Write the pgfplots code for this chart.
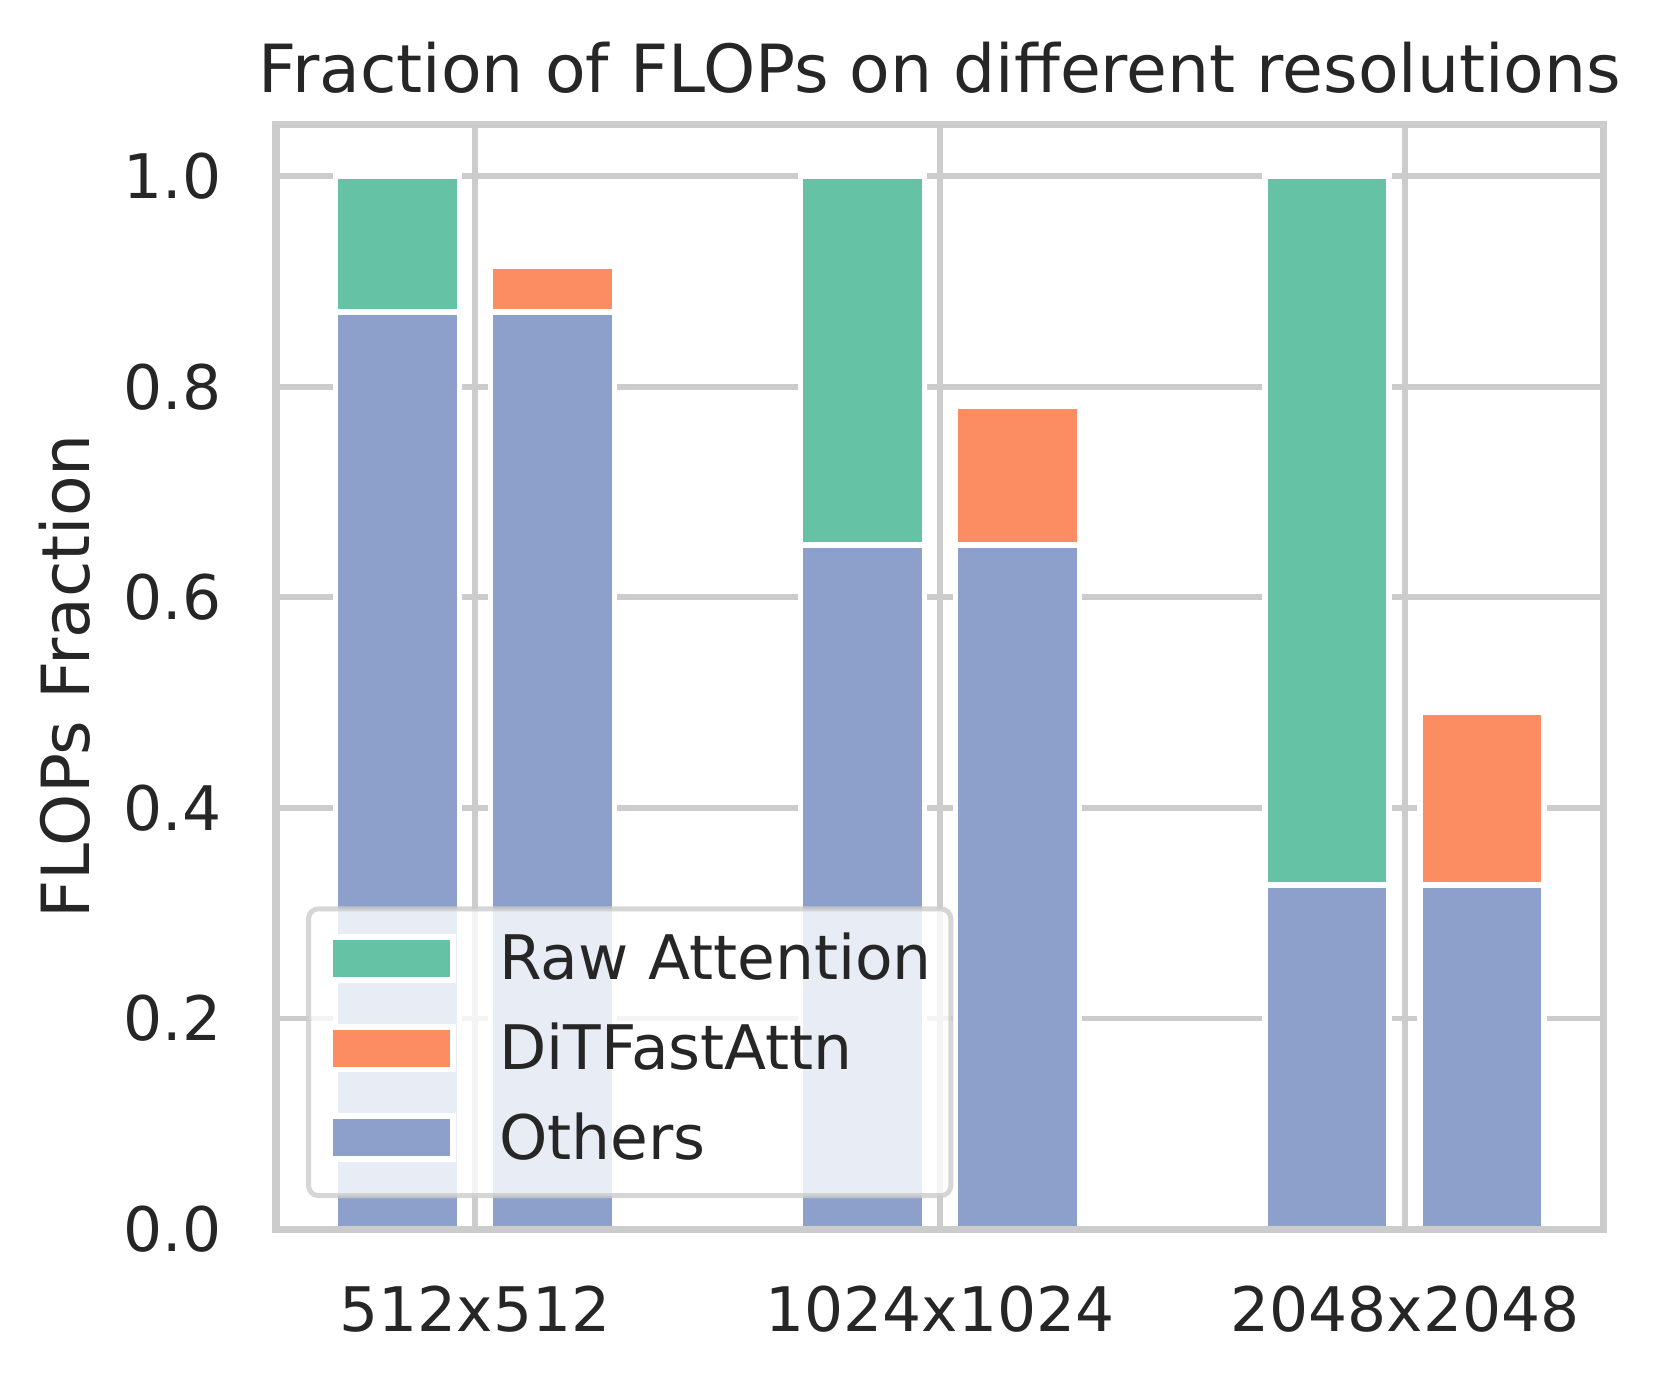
\documentclass[border=0pt]{standalone}
\usepackage{pgfplots}
\pgfplotsset{compat=1.18}
\usepackage{fontspec}
\setmainfont{DejaVu Sans}

\definecolor{rawattn}{HTML}{66C2A5}
\definecolor{fastattn}{HTML}{FC8D62}
\definecolor{others}{HTML}{8DA0CB}
\definecolor{gridgray}{HTML}{CCCCCC}
\definecolor{textcol}{HTML}{262626}

\newcommand\ticksize{\fontsize{14.8pt}{17pt}\selectfont}
\newcommand\titlesize{\fontsize{16.0pt}{19pt}\selectfont}

% legend patch: white-edged box, centred a bit above the row line
\pgfplotsset{patchlegend/.style={legend image code/.code={%
  \draw[##1, sharp corners, fill opacity=1, draw opacity=1, draw=white, line width=1.4pt]
    (0pt,-4.15pt) rectangle (29.6pt,6.15pt);}}}

\begin{document}
\begin{tikzpicture}
\begin{axis}[
    scale only axis,
    width=319.9pt, height=266.2pt,
    xmin=-0.428, xmax=2.428,
    ymin=0, ymax=1.0494,
    xtick={0,1,2},
    xticklabels={512x512,1024x1024,2048x2048},
    ytick={0,0.2,0.4,0.6,0.8,1.0},
    /pgf/number format/fixed,
    /pgf/number format/fixed zerofill,
    /pgf/number format/precision=1,
    /pgf/number format/assume math mode=true,
    tick label style={font=\ticksize, text=textcol},
    xticklabel style={anchor=north, inner sep=0pt, yshift=-13.6pt},
    yticklabel style={anchor=east, inner sep=0pt, xshift=-13.0pt},
    major tick length=0pt,
    title={Fraction of FLOPs on different resolutions},
    every axis title/.style={at={(axis description cs:0.5,1)}, anchor=base, yshift=7.5pt,
        inner sep=0pt, font=\titlesize, text=textcol},
    ylabel={FLOPs Fraction},
    every axis y label/.style={at={(axis description cs:0,0.5)}, xshift=-44.6pt, rotate=90,
        anchor=south, inner sep=0pt, font=\titlesize, text=textcol},
    axis line style={gridgray, line width=1.7pt},
    grid=major,
    grid style={gridgray, line width=1.4pt},
    clip=false,
    legend style={at={(0.0226,0.028)}, anchor=south west,
        draw=gridgray, draw opacity=0.8, line width=1.2pt, rounded corners=2.4pt,
        fill=white, fill opacity=0.8, text opacity=1,
        inner xsep=4.6pt, inner ysep=2.15pt,
        column sep=10.4pt, row sep=0pt,
        cells={anchor=west},
        nodes={inner sep=0pt, text height=15.0pt, text depth=6.6pt,
            font=\ticksize, text=textcol, text opacity=1}},
]
\addplot[ybar, bar width=0.2667, bar shift=0pt, fill=rawattn, draw=white, line width=1.4pt, patchlegend]
    coordinates {(-0.1667,1.0) (0.8333,1.0) (1.8333,1.0)};
\addlegendentry{Raw Attention}
\addplot[ybar, bar width=0.2667, bar shift=0pt, fill=fastattn, draw=white, line width=1.4pt, patchlegend]
    coordinates {(0.1667,0.9145) (1.1667,0.7813) (2.1667,0.491)};
\addlegendentry{DiTFastAttn}
\addplot[ybar, bar width=0.2667, bar shift=0pt, fill=others, draw=white, line width=1.4pt, patchlegend]
    coordinates {(-0.1667,0.871) (0.1667,0.871) (0.8333,0.650) (1.1667,0.650) (1.8333,0.327) (2.1667,0.327)};
\addlegendentry{Others}
% spines on top of the bars, as matplotlib draws them
\draw[gridgray, line width=1.7pt] (rel axis cs:0,0) rectangle (rel axis cs:1,1);
\end{axis}
\path ([xshift=-66.5pt,yshift=-36.4pt]current axis.south west)
    rectangle ([xshift=14pt,yshift=29.9pt]current axis.north east);
\end{tikzpicture}
\end{document}
